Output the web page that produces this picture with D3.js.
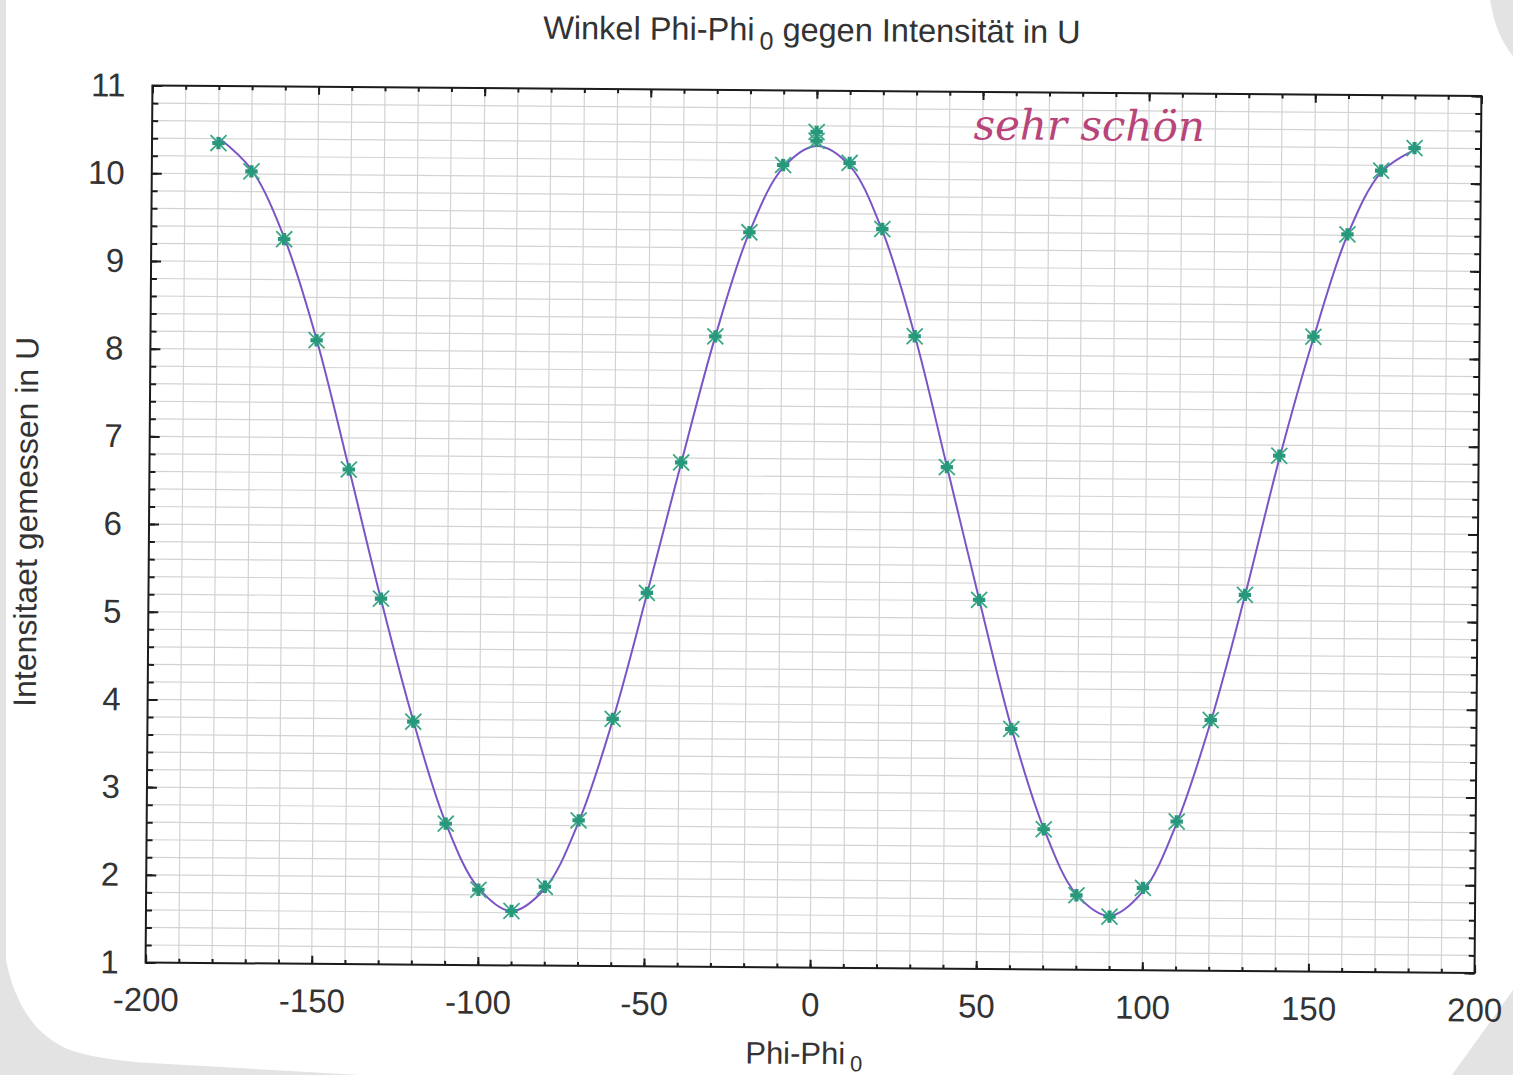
<!DOCTYPE html>
<html>
<head>
<meta charset="utf-8">
<script src="https://cdn.jsdelivr.net/npm/d3@7"></script>
<style>
  html, body { margin: 0; padding: 0; background: #e4e4e4; }
  svg { display: block; }
</style>
</head>
<body>
<svg id="chart" width="1513" height="1075"></svg>
<script>
// ---- data ----
const angles = [-180,-170,-160,-150,-140,-130,-120,-110,-100,-90,-80,-70,-60,-50,-40,-30,-20,-10,0,0,10,20,30,40,50,60,70,80,90,100,110,120,130,140,150,160,170,180];
const intensity = [10.35,10.03,9.26,8.11,6.64,5.17,3.77,2.61,1.86,1.62,1.90,2.66,3.82,5.26,6.75,8.19,9.38,10.15,10.43,10.53,10.18,9.43,8.21,6.72,5.21,3.74,2.60,1.85,1.61,1.94,2.70,3.86,5.29,6.88,8.24,9.41,10.14,10.40];

const fitAngles = [-180,-170,-160,-150,-140,-130,-120,-110,-100,-90,-80,-70,-60,-50,-40,-30,-20,-10,0,10,20,30,40,50,60,70,80,90,100,110,120,130,140,150,160,170,180];
const fitValues = [10.41,10.05,9.28,8.12,6.66,5.16,3.78,2.62,1.88,1.62,1.88,2.64,3.80,5.24,6.74,8.19,9.38,10.12,10.37,10.15,9.41,8.22,6.73,5.22,3.76,2.61,1.86,1.62,1.90,2.68,3.84,5.28,6.84,8.22,9.40,10.12,10.38];

const xMajorTicks = [-200,-150,-100,-50,0,50,100,150,200];
const xMinorTicks = d3.range(-200, 201, 10);
const yMajorTicks = [1,2,3,4,5,6,7,8,9,10,11];
const yMinorTicks = d3.range(0, 51).map(i => +(1 + i * 0.2).toFixed(1));

const titleText = "Winkel Phi-Phi";
const titleSub = "0";
const titleRest = " gegen Intensität in U";
const xLabelText = "Phi-Phi";
const xLabelSub = "0";
const yLabelText = "Intensitaet gemessen in U";
const noteText = "sehr schön";

// ---- layout ----
const W = 1513, H = 1075;
const L = 149, R = 1478, T = 90.75, B = 967.75;
const cx = 813.5, cy = 529.25;
const font = "'Liberation Sans', Arial, sans-serif";
const textColor = "#333333";

const svg = d3.select("#chart");

// paper
svg.append("rect").attr("width", W).attr("height", H).attr("fill", "#e3e3e3");
svg.append("path")
  .attr("d", "M6,0 L1490,0 Q1496,36 1513,56 L1513,990 L1452,1075 L360,1075 L150,1063 Q100,1060 70,1050 Q20,1030 6,960 Z")
  .attr("fill", "#ffffff");

const g = svg.append("g").attr("transform", `rotate(0.45 ${cx} ${cy})`);

const x = d3.scaleLinear().domain([-200, 200]).range([L, R]);
const y = d3.scaleLinear().domain([1, 11]).range([B, T]);

// grid
g.append("g").selectAll("line").data(xMinorTicks).join("line")
  .attr("x1", d => x(d)).attr("x2", d => x(d)).attr("y1", T).attr("y2", B)
  .attr("stroke", "#d3d3d3").attr("stroke-width", 1.2);
g.append("g").selectAll("line").data(yMinorTicks).join("line")
  .attr("x1", L).attr("x2", R).attr("y1", d => y(d)).attr("y2", d => y(d))
  .attr("stroke", "#d3d3d3").attr("stroke-width", 1.2);

const fmt = d => String(d);

function styleAxis(sel) {
  sel.select(".domain").remove();
  sel.selectAll(".tick line").attr("stroke", "#1c1c1c").attr("stroke-width", 2);
  sel.selectAll(".tick text").attr("fill", textColor).style("font-family", font).style("font-size", "33px");
}

// bottom
g.append("g").attr("transform", `translate(0,${B})`)
  .call(d3.axisBottom(x).tickValues(xMinorTicks).tickSize(-4).tickFormat(""))
  .call(styleAxis);
g.append("g").attr("transform", `translate(0,${B})`)
  .call(d3.axisBottom(x).tickValues(xMajorTicks).tickSize(-8).tickPadding(25).tickFormat(fmt))
  .call(styleAxis);
// top
g.append("g").attr("transform", `translate(0,${T})`)
  .call(d3.axisTop(x).tickValues(xMinorTicks).tickSize(-4).tickFormat(""))
  .call(styleAxis);
g.append("g").attr("transform", `translate(0,${T})`)
  .call(d3.axisTop(x).tickValues(xMajorTicks).tickSize(-8).tickFormat(""))
  .call(styleAxis);
// left
g.append("g").attr("transform", `translate(${L},0)`)
  .call(d3.axisLeft(y).tickValues(yMinorTicks).tickSize(-6).tickFormat(""))
  .call(styleAxis);
g.append("g").attr("transform", `translate(${L},0)`)
  .call(d3.axisLeft(y).tickValues(yMajorTicks).tickSize(-10).tickPadding(27).tickFormat(fmt))
  .call(styleAxis);
// right
g.append("g").attr("transform", `translate(${R},0)`)
  .call(d3.axisRight(y).tickValues(yMinorTicks).tickSize(-6).tickFormat(""))
  .call(styleAxis);
g.append("g").attr("transform", `translate(${R},0)`)
  .call(d3.axisRight(y).tickValues(yMajorTicks).tickSize(-10).tickFormat(""))
  .call(styleAxis);

// frame
g.append("rect").attr("x", L).attr("y", T).attr("width", R - L).attr("height", B - T)
  .attr("fill", "none").attr("stroke", "#1c1c1c").attr("stroke-width", 2);

// fit curve
const fitData = fitAngles.map((a, i) => [a, fitValues[i]]);
g.append("path").datum(fitData)
  .attr("fill", "none").attr("stroke", "#7a55c6").attr("stroke-width", 2)
  .attr("d", d3.line().x(d => x(d[0])).y(d => y(d[1])).curve(d3.curveCatmullRom.alpha(0.5)));

// markers
const pts = angles.map((a, i) => [a, intensity[i]]);
const mk = g.append("g").selectAll("g").data(pts).join("g")
  .attr("transform", d => `translate(${x(d[0])},${y(d[1])})`);
mk.append("path").attr("d", "M-8,-8L8,8M-8,8L8,-8")
  .attr("stroke", "#3aa886").attr("stroke-width", 1.8).attr("fill", "none");
mk.append("path").attr("d", d3.symbol(d3.symbolCross, 85)())
  .attr("fill", "#27987b");

// title
const title = g.append("text").attr("x", 808).attr("y", 41)
  .attr("text-anchor", "middle").attr("fill", textColor)
  .style("font-family", font).style("font-size", "32.5px");
title.append("tspan").text(titleText);
title.append("tspan").attr("dx", 5).attr("dy", 9).style("font-size", "25px").text(titleSub);
title.append("tspan").attr("dy", -9).text(titleRest);

// x label
const xl = g.append("text").attr("x", 808).attr("y", 1064)
  .attr("text-anchor", "middle").attr("fill", textColor)
  .style("font-family", font).style("font-size", "31px");
xl.append("tspan").text(xLabelText);
xl.append("tspan").attr("dx", 5).attr("dy", 7).style("font-size", "22px").text(xLabelSub);

// y label
g.append("text").attr("transform", `translate(37,${528}) rotate(-90)`)
  .attr("text-anchor", "middle").attr("fill", textColor)
  .style("font-family", font).style("font-size", "32px")
  .text(yLabelText);

// handwritten note
g.append("text").attr("x", 1086).attr("y", 138)
  .attr("text-anchor", "middle").attr("fill", "#b8447a")
  .style("font-family", "'DejaVu Serif', 'Liberation Serif', serif")
  .style("font-style", "italic").style("font-size", "42px").style("font-weight", "300")
  .text(noteText);
</script>
</body>
</html>
